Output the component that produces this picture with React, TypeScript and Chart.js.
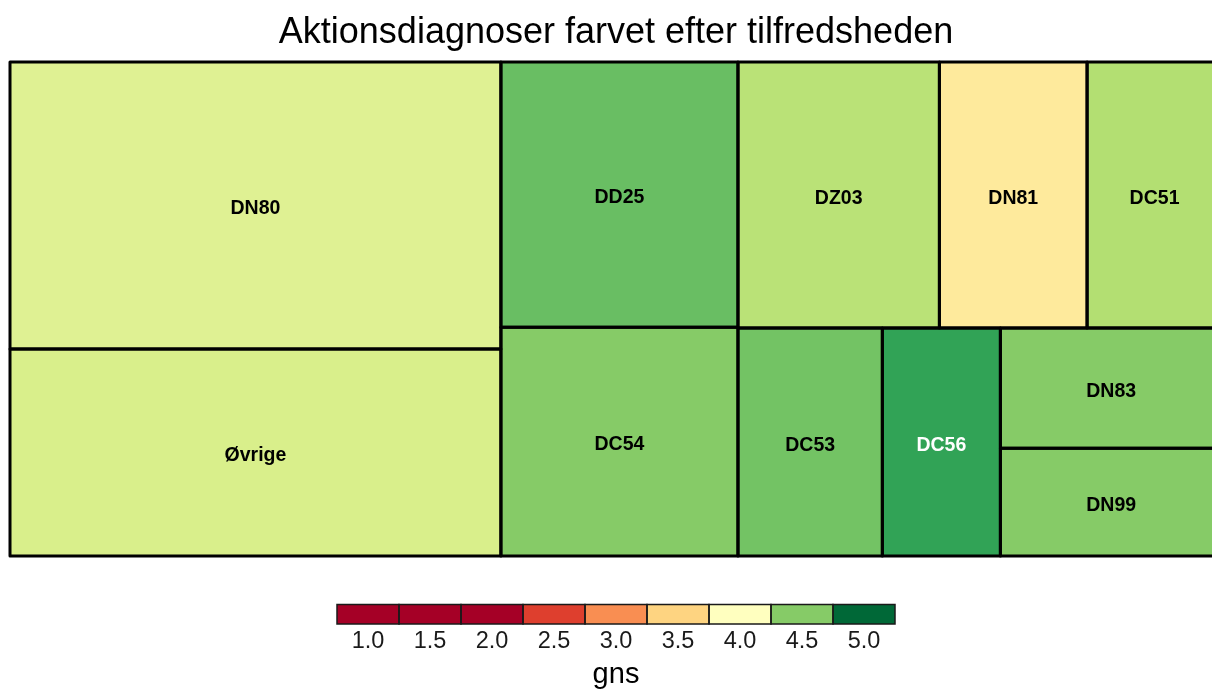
import React, { useEffect, useRef } from "react";
import { Chart, registerables } from "chart.js";

Chart.register(...registerables);

// ---------- data ----------
const categories = ["DN80", "Øvrige", "DD25", "DC54", "DZ03", "DN81", "DC51", "DC53", "DC56", "DN83", "DN99"];
const sizes = [1409, 1016, 629, 542, 536, 393, 359, 329, 269, 266, 239];
const gns = [4.17, 4.2, 4.59, 4.5, 4.32, 3.73, 4.35, 4.56, 4.74, 4.5, 4.5];
const legendTicks = [1.0, 1.5, 2.0, 2.5, 3.0, 3.5, 4.0, 4.5, 5.0];
const legendTickLabels = ["1.0", "1.5", "2.0", "2.5", "3.0", "3.5", "4.0", "4.5", "5.0"];
const colorMapping = [2, 4, 5]; // low, mid, high of the diverging palette
const titleText = "Aktionsdiagnoser farvet efter tilfredsheden";
const legendTitle = "gns";

// RdYlGn (11)
const palette = ["#a50026", "#d73027", "#f46d43", "#fdae61", "#fee08b", "#ffffbf", "#d9ef8b", "#a6d96a", "#66bd63", "#1a9850", "#006837"];

const FONT = '"Liberation Sans", Arial, sans-serif';

function hexToRgb(h: string): number[] {
  const n = parseInt(h.slice(1), 16);
  return [(n >> 16) & 255, (n >> 8) & 255, n & 255];
}

function colorRgb(v: number): number[] {
  const [lo, mid, hi] = colorMapping;
  const p = v < mid ? Math.max(0, ((v - lo) / (mid - lo)) * 0.5) : Math.min(1, 0.5 + ((v - mid) / (hi - mid)) * 0.5);
  const t = p * (palette.length - 1);
  const i = Math.min(palette.length - 2, Math.floor(t));
  const f = t - i;
  const a = hexToRgb(palette[i]);
  const b = hexToRgb(palette[i + 1]);
  return [0, 1, 2].map((k) => Math.round(a[k] + (b[k] - a[k]) * f));
}
function colorFor(v: number): string {
  const c = colorRgb(v);
  return `rgb(${c[0]},${c[1]},${c[2]})`;
}

type Rect = { x: number; y: number; w: number; h: number };
type Item = { i: number; a: number };

const sum = (arr: Item[]) => arr.reduce((s, it) => s + it.a, 0);

// Pivot-by-size ordered treemap (units: data space, sx/sy = pixels per unit for aspect)
function pivot(items: Item[], r: Rect, sx: number, sy: number, out: Rect[]) {
  if (items.length === 0) return;
  if (items.length === 1) {
    out[items[0].i] = r;
    return;
  }
  const total = sum(items);
  let pi = 0;
  items.forEach((it, k) => {
    if (it.a > items[pi].a) pi = k;
  });
  const P = items[pi];
  const L1 = items.slice(0, pi);
  const rest = items.slice(pi + 1);
  const wide = r.w * sx >= r.h * sy;
  const a1 = sum(L1);
  let rem: Rect;
  if (wide) {
    const w1 = (r.w * a1) / total;
    if (L1.length) pivot(L1, { x: r.x, y: r.y, w: w1, h: r.h }, sx, sy, out);
    rem = { x: r.x + w1, y: r.y, w: r.w - w1, h: r.h };
  } else {
    const h1 = (r.h * a1) / total;
    if (L1.length) pivot(L1, { x: r.x, y: r.y, w: r.w, h: h1 }, sx, sy, out);
    rem = { x: r.x, y: r.y + h1, w: r.w, h: r.h - h1 };
  }
  const remTotal = total - a1;
  let bestK = 0;
  let bestAR = Infinity;
  for (let k = 0; k <= rest.length; k++) {
    const ap = P.a + sum(rest.slice(0, k));
    let pw: number, ph: number;
    if (wide) {
      pw = ((rem.w * ap) / remTotal) * sx;
      ph = ((rem.h * P.a) / ap) * sy;
    } else {
      ph = ((rem.h * ap) / remTotal) * sy;
      pw = ((rem.w * P.a) / ap) * sx;
    }
    const ar = Math.max(pw / ph, ph / pw);
    if (ar < bestAR) {
      bestAR = ar;
      bestK = k;
    }
  }
  const L2 = rest.slice(0, bestK);
  const L3 = rest.slice(bestK);
  const ap = P.a + sum(L2);
  if (wide) {
    const cw = L3.length ? (rem.w * ap) / remTotal : rem.w;
    const ph = L2.length ? (rem.h * P.a) / ap : rem.h;
    out[P.i] = { x: rem.x, y: rem.y, w: cw, h: ph };
    pivot(L2, { x: rem.x, y: rem.y + ph, w: cw, h: rem.h - ph }, sx, sy, out);
    pivot(L3, { x: rem.x + cw, y: rem.y, w: rem.w - cw, h: rem.h }, sx, sy, out);
  } else {
    const rh = L3.length ? (rem.h * ap) / remTotal : rem.h;
    const pw = L2.length ? (rem.w * P.a) / ap : rem.w;
    out[P.i] = { x: rem.x, y: rem.y, w: pw, h: rh };
    pivot(L2, { x: rem.x + pw, y: rem.y, w: rem.w - pw, h: rh }, sx, sy, out);
    pivot(L3, { x: rem.x, y: rem.y + rh, w: rem.w, h: rem.h - rh }, sx, sy, out);
  }
}

function computeLayout(sx: number, sy: number): Rect[] {
  const total = sizes.reduce((s, v) => s + v, 0);
  const items: Item[] = sizes.map((v, i) => ({ i, a: v / total })).sort((p, q) => q.a - p.a);
  const out: Rect[] = [];
  pivot(items, { x: 0, y: 0, w: 1, h: 1 }, sx, sy, out);
  return out;
}

const treemapPlugin = {
  id: "treemapCells",
  afterDraw(chart: any) {
    const { ctx, chartArea, scales } = chart;
    const xs = scales.x;
    const ys = scales.y;
    const rects = computeLayout(chartArea.width, chartArea.height);
    const px = rects.map((r) => {
      const x0 = xs.getPixelForValue(r.x);
      const x1 = xs.getPixelForValue(r.x + r.w);
      const y0 = ys.getPixelForValue(r.y);
      const y1 = ys.getPixelForValue(r.y + r.h);
      return { x0: Math.min(x0, x1), y0: Math.min(y0, y1), x1: Math.max(x0, x1), y1: Math.max(y0, y1) };
    });
    ctx.save();
    px.forEach((p, i) => {
      ctx.fillStyle = colorFor(gns[i]);
      ctx.fillRect(p.x0, p.y0, p.x1 - p.x0, p.y1 - p.y0);
    });
    ctx.strokeStyle = "#000";
    ctx.lineWidth = 3;
    ctx.lineJoin = "round";
    px.forEach((p) => {
      ctx.strokeRect(p.x0, p.y0, p.x1 - p.x0, p.y1 - p.y0);
    });
    ctx.font = `bold 19.5px ${FONT}`;
    ctx.textAlign = "center";
    ctx.textBaseline = "alphabetic";
    px.forEach((p, i) => {
      const c = colorRgb(gns[i]);
      const lum = 0.299 * c[0] + 0.587 * c[1] + 0.114 * c[2];
      ctx.fillStyle = lum < 130 ? "#ffffff" : "#000000";
      ctx.fillText(categories[i], (p.x0 + p.x1) / 2, (p.y0 + p.y1) / 2 + 8.8);
    });

    // colour legend
    const cx = chart.width / 2;
    const sw = 62;
    const top = 604.5;
    const sh = 19.5;
    const left = cx - (legendTicks.length * sw) / 2;
    legendTicks.forEach((v, k) => {
      ctx.fillStyle = colorFor(v);
      ctx.fillRect(left + k * sw, top, sw, sh);
    });
    ctx.strokeStyle = "#1a1a1a";
    ctx.lineWidth = 1.5;
    ctx.lineJoin = "miter";
    legendTicks.forEach((_, k) => {
      ctx.strokeRect(left + k * sw, top, sw, sh);
    });
    ctx.fillStyle = "#1a1a1a";
    ctx.font = `23.5px ${FONT}`;
    legendTickLabels.forEach((t, k) => {
      ctx.fillText(t, left + k * sw + sw / 2, 648);
    });
    ctx.fillStyle = "#000";
    ctx.font = `29px ${FONT}`;
    ctx.fillText(legendTitle, cx, 683.3);
    ctx.restore();
  },
};

export default function App() {
  const ref = useRef<HTMLCanvasElement | null>(null);
  useEffect(() => {
    if (!ref.current) return;
    const chart = new Chart(ref.current, {
      type: "scatter",
      data: { datasets: [{ label: "cells", data: [] }] },
      options: {
        animation: false,
        responsive: false,
        layout: { padding: { left: 10, right: 10, top: 0, bottom: 137 } },
        scales: {
          x: { type: "linear", min: 0, max: 1, display: false },
          y: { type: "linear", min: 0, max: 1, reverse: true, display: false },
        },
        plugins: {
          legend: { display: false },
          tooltip: { enabled: false },
          title: {
            display: true,
            text: titleText,
            color: "#000",
            font: { family: FONT, size: 36, weight: "normal", lineHeight: 1.2 },
            padding: { top: 11, bottom: 7.8 },
          },
        },
      },
      plugins: [treemapPlugin],
    } as any);
    return () => chart.destroy();
  }, []);
  return (
    <div style={{ position: "fixed", left: 0, top: 0, right: 0, bottom: 0, overflow: "hidden", background: "#fff" }}>
      <canvas ref={ref} width={1232} height={693} style={{ width: "1232px", height: "693px", display: "block" }} />
    </div>
  );
}
